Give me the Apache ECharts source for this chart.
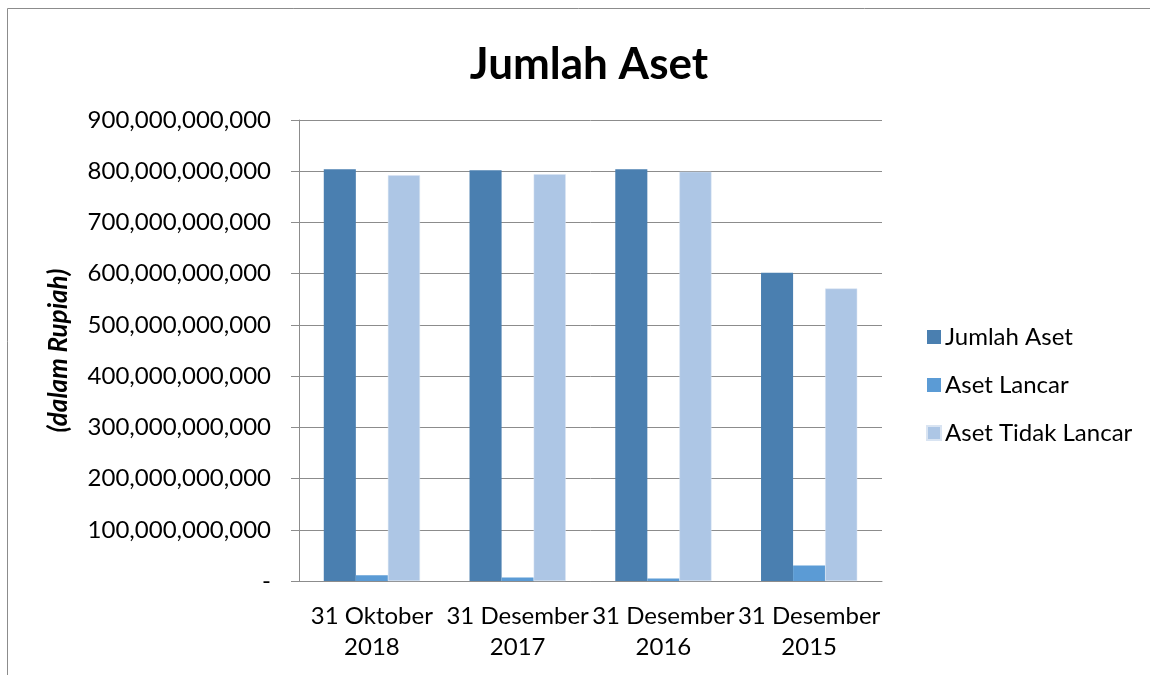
<!DOCTYPE html>
<html>
<head>
<meta charset="utf-8">
<script src="https://cdn.jsdelivr.net/npm/echarts@6/dist/echarts.min.js"></script>
<style>
    html, body { margin: 0; padding: 0; background: #fff; }
    #chart { width: 1150px; height: 675px; }
</style>
</head>
<body>
<div id="chart"></div>
<script>
// data (Rupiah)
var categories = ['31 Oktober\n2018', '31 Desember\n2017', '31 Desember\n2016', '31 Desember\n2015'];
var seriesNames = ['Jumlah Aset', 'Aset Lancar', 'Aset Tidak Lancar'];
var jumlahAset = [804e9, 802e9, 804e9, 602e9];
var asetLancar = [11e9, 7e9, 5e9, 30.5e9];
var asetTidakLancar = [792e9, 794e9, 799e9, 571e9];
var colors = ['#4a7fb0', '#5b9bd5', '#adc6e5'];

var font = 'Lato, "Open Sans", sans-serif';

function fmt(v) {
    if (v === 0) return '-';
    return String(v).replace(/\B(?=(\d{3})+(?!\d))/g, ',');
}

var chart = echarts.init(document.getElementById('chart'));

chart.setOption({
    animation: false,
    color: colors,
    textStyle: { fontFamily: font },
    // chart border (left + top only visible)
    graphic: [{
        type: 'polyline',
        shape: { points: [[7.5, 675], [7.5, 8.5], [1150, 8.5]] },
        style: { stroke: '#8c8c8c', lineWidth: 1, fill: null }
    }],
    title: {
        text: 'Jumlah Aset',
        left: 584,
        top: 38,
        textAlign: 'center',
        textStyle: { fontSize: 44, fontWeight: 'bold', color: '#000', fontFamily: font }
    },
    legend: {
        orient: 'vertical',
        left: 921,
        top: 320,
        itemWidth: 14,
        itemHeight: 14,
        itemGap: 24,
        icon: 'rect',
        data: seriesNames,
        textStyle: { fontSize: 24, color: '#000', fontFamily: font, padding: [0, 0, 0, -1] }
    },
    grid: { left: 299, right: 268, top: 120, bottom: 94 },
    xAxis: {
        type: 'category',
        data: categories,
        axisLine: { lineStyle: { color: '#8c8c8c' } },
        axisTick: { length: 7, lineStyle: { color: '#8c8c8c' } },
        axisLabel: { fontSize: 24, color: '#000', lineHeight: 31, margin: 20, interval: 0 }
    },
    yAxis: {
        type: 'value',
        min: 0,
        max: 900e9,
        interval: 100e9,
        name: '(dalam Rupiah)',
        nameLocation: 'middle',
        nameGap: 227,
        nameTextStyle: { fontSize: 26, fontWeight: 'bold', fontStyle: 'italic', color: '#000', fontFamily: font },
        axisLine: { show: true, lineStyle: { color: '#8c8c8c' } },
        axisTick: { show: true, length: 8, lineStyle: { color: '#8c8c8c' } },
        splitLine: { lineStyle: { color: '#8c8c8c' } },
        axisLabel: { fontSize: 24, color: '#000', margin: 28, formatter: fmt }
    },
    series: [{
        name: seriesNames[0],
        type: 'bar',
        data: jumlahAset,
        barGap: '0%',
        barCategoryGap: '34%'
    }, {
        name: seriesNames[1],
        type: 'bar',
        data: asetLancar
    }, {
        name: seriesNames[2],
        type: 'bar',
        data: asetTidakLancar,
        itemStyle: { borderColor: '#d9e4f2', borderWidth: 0.5 }
    }]
});
</script>
</body>
</html>
